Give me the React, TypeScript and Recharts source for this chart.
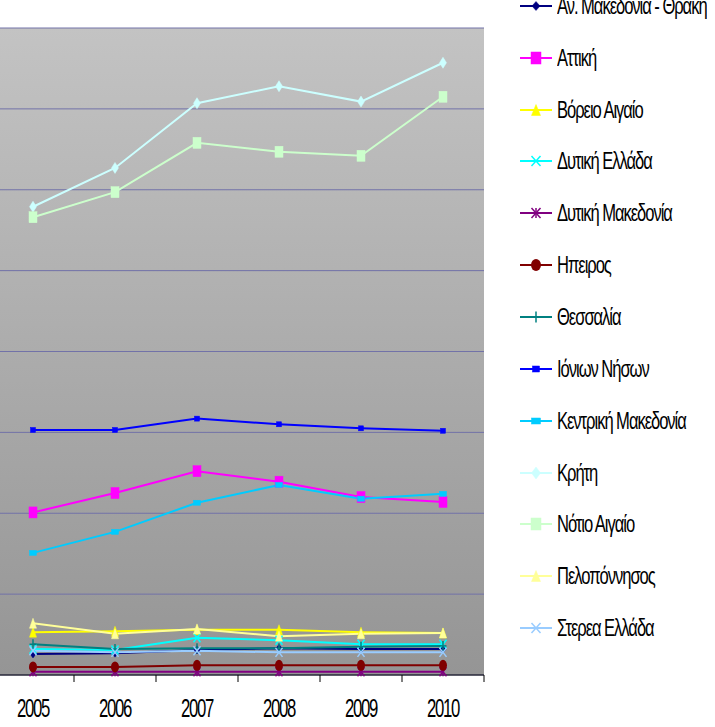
import React from 'react';
import { LineChart, Line, XAxis, YAxis, CartesianGrid, Legend } from 'recharts';

const years = [2005, 2006, 2007, 2008, 2009, 2010];
const xTicks = [2004.5, 2005, 2005.5, 2006, 2006.5, 2007, 2007.5, 2008, 2008.5, 2009, 2009.5, 2010, 2010.5];
const yTicks = [0, 100, 200, 300, 400, 500, 600, 700, 800];

const anMakedoniaThraki = [26, 27, 31, 33, 32, 32];
const attiki = [201, 225, 252, 239, 220, 214];
const voreioAigaio = [53, 54, 56, 56, 53, 52];
const dytikiEllada = [32, 31, 46, 43, 38, 38];
const dytikiMakedonia = [4, 4, 4, 4, 4, 4];
const ipeiros = [10, 10, 12, 12, 12, 12];
const thessalia = [38, 32, 33, 33, 35, 36];
const ionionNison = [303, 303, 317, 310, 305, 302];
const kentrikiMakedonia = [151, 177, 213, 235, 218, 224];
const kriti = [579, 627, 707, 728, 709, 757];
const notioAigaio = [566, 597, 658, 647, 642, 715];
const peloponnisos = [64, 51, 57, 48, 51, 52];
const stereaEllada = [30, 28, 30, 28, 28, 28];

type Shape = 'diamond' | 'square' | 'triangle' | 'x' | 'star' | 'circle' | 'plus';

interface SeriesMeta {
  key: string;
  name: string;
  color: string;
  shape: Shape;
  w: number;
  h: number;
  values: number[];
}

const series: SeriesMeta[] = [
  { key: 'anm', name: 'Αν. Μακεδονία - Θράκη', color: '#000080', shape: 'diamond', w: 6, h: 8, values: anMakedoniaThraki },
  { key: 'att', name: 'Αττική', color: '#FF00FF', shape: 'square', w: 8, h: 11, values: attiki },
  { key: 'vai', name: 'Βόρειο Αιγαίο', color: '#FFFF00', shape: 'triangle', w: 7, h: 10, values: voreioAigaio },
  { key: 'del', name: 'Δυτική Ελλάδα', color: '#00FFFF', shape: 'x', w: 7, h: 9, values: dytikiEllada },
  { key: 'dma', name: 'Δυτική Μακεδονία', color: '#800080', shape: 'star', w: 7, h: 9, values: dytikiMakedonia },
  { key: 'ipe', name: 'Ηπειρος', color: '#800000', shape: 'circle', w: 8, h: 11, values: ipeiros },
  { key: 'the', name: 'Θεσσαλία', color: '#008080', shape: 'plus', w: 7, h: 10, values: thessalia },
  { key: 'ion', name: 'Ιόνιων Νήσων', color: '#0000FF', shape: 'square', w: 5, h: 5, values: ionionNison },
  { key: 'kma', name: 'Κεντρική Μακεδονία', color: '#00CCFF', shape: 'square', w: 7, h: 5, values: kentrikiMakedonia },
  { key: 'kri', name: 'Κρήτη', color: '#CCFFFF', shape: 'diamond', w: 7, h: 11, values: kriti },
  { key: 'nai', name: 'Νότιο Αιγαίο', color: '#CCFFCC', shape: 'square', w: 8, h: 11, values: notioAigaio },
  { key: 'pel', name: 'Πελοπόννησος', color: '#FFFF99', shape: 'triangle', w: 7, h: 10, values: peloponnisos },
  { key: 'ste', name: 'Στερεα Ελλάδα', color: '#99CCFF', shape: 'x', w: 7, h: 9, values: stereaEllada },
];

const data = years.map((year, i) => {
  const row: Record<string, number> = { year };
  series.forEach((s) => {
    row[s.key] = s.values[i];
  });
  return row;
});

const metaByKey: Record<string, SeriesMeta> = {};
series.forEach((s) => {
  metaByKey[s.key] = s;
});

const FONT = '"Liberation Sans", Arial, sans-serif';

function Marker({ cx, cy, shape, color, w, h }: { cx: number; cy: number; shape: Shape; color: string; w: number; h: number }) {
  if (cx == null || cy == null || isNaN(cx) || isNaN(cy)) return null;
  const hw = w / 2;
  const hh = h / 2;
  switch (shape) {
    case 'diamond':
      return <path d={`M${cx},${cy - hh}L${cx + hw},${cy}L${cx},${cy + hh}L${cx - hw},${cy}Z`} fill={color} stroke={color} strokeWidth={0.5} />;
    case 'square':
      return <rect x={cx - hw} y={cy - hh} width={w} height={h} fill={color} stroke={color} strokeWidth={0.5} />;
    case 'triangle':
      return <path d={`M${cx},${cy - hh}L${cx + hw},${cy + hh}L${cx - hw},${cy + hh}Z`} fill={color} stroke={color} strokeWidth={0.5} />;
    case 'circle':
      return <ellipse cx={cx} cy={cy} rx={hw} ry={hh} fill={color} />;
    case 'x':
      return (
        <g stroke={color} strokeWidth={1.5}>
          <line x1={cx - hw} y1={cy - hh} x2={cx + hw} y2={cy + hh} />
          <line x1={cx - hw} y1={cy + hh} x2={cx + hw} y2={cy - hh} />
        </g>
      );
    case 'star':
      return (
        <g stroke={color} strokeWidth={1.5}>
          <line x1={cx - hw} y1={cy - hh} x2={cx + hw} y2={cy + hh} />
          <line x1={cx - hw} y1={cy + hh} x2={cx + hw} y2={cy - hh} />
          <line x1={cx} y1={cy - hh} x2={cx} y2={cy + hh} />
        </g>
      );
    case 'plus':
      return (
        <g stroke={color} strokeWidth={1.5}>
          <line x1={cx - hw} y1={cy} x2={cx + hw} y2={cy} />
          <line x1={cx} y1={cy - hh} x2={cx} y2={cy + hh} />
        </g>
      );
    default:
      return null;
  }
}

function XTick(props: any) {
  const { x, y, payload } = props;
  const v = payload.value as number;
  if (Number.isInteger(v)) {
    return (
      <g transform={`translate(${x},${y})`}>
        <text
          x={0}
          y={0}
          dy={42}
          textAnchor="middle"
          transform="scale(0.67,1)"
          fontFamily={FONT}
          fontSize={25}
          letterSpacing={-2}
          fill="#000"
        >
          {v}
        </text>
      </g>
    );
  }
  return <line x1={x} y1={y} x2={x} y2={y + 7} stroke="#000" strokeWidth={1} />;
}

function LegendContent(props: any) {
  const payload = props.payload || [];
  return (
    <div style={{ fontFamily: FONT }}>
      {payload.map((entry: any) => {
        const meta = metaByKey[entry.dataKey] || series.find((s) => s.name === entry.value);
        if (!meta) return null;
        return (
          <div key={meta.key} style={{ height: 51.85, display: 'flex', alignItems: 'center' }}>
            <svg width={32} height={14} style={{ overflow: 'visible', flex: '0 0 auto' }}>
              <line x1={0} y1={7} x2={32} y2={7} stroke={meta.color} strokeWidth={2} />
              <Marker cx={16} cy={7} shape={meta.shape} color={meta.color} w={meta.w + 2} h={meta.h + 1} />
            </svg>
            <span
              style={{
                display: 'inline-block',
                marginLeft: 5,
                fontSize: 24,
                color: '#000',
                whiteSpace: 'nowrap',
                letterSpacing: '-1.5px',
                transform: 'scaleX(0.69)',
                transformOrigin: 'left center',
                lineHeight: '28px',
              }}
            >
              {meta.name}
            </span>
          </div>
        );
      })}
    </div>
  );
}

export default function App() {
  return (
    <div style={{ position: 'absolute', left: -8, top: 0 }}>
      <LineChart width={723} height={727} data={data} margin={{ top: 28, right: 231, bottom: 0, left: 0 }}>
        <defs>
          <linearGradient id="plotBg" x1="0" y1="0" x2="0" y2="1">
            <stop offset="0%" stopColor="#C3C3C3" />
            <stop offset="100%" stopColor="#959595" />
          </linearGradient>
        </defs>
        <CartesianGrid vertical={false} stroke="#7272A8" strokeWidth={1} fill="url(#plotBg)" fillOpacity={1} />
        <XAxis
          type="number"
          dataKey="year"
          domain={[2004.5, 2010.5]}
          ticks={xTicks}
          interval={0}
          tickLine={false}
          tickSize={0}
          tickMargin={0}
          height={52}
          axisLine={{ stroke: '#000', strokeWidth: 1 }}
          tick={<XTick />}
        />
        <YAxis hide domain={[0, 800]} ticks={yTicks} />
        {series.map((s) => (
          <Line
            key={s.key}
            type="linear"
            dataKey={s.key}
            name={s.name}
            stroke={s.color}
            strokeWidth={2}
            isAnimationActive={false}
            activeDot={false}
            dot={(p: any) => (
              <Marker key={`${s.key}-${p.index}`} cx={p.cx} cy={p.cy} shape={s.shape} color={s.color} w={s.w} h={s.h} />
            )}
          />
        ))}
        <Legend
          layout="vertical"
          align="center"
          verticalAlign="middle"
          content={<LegendContent />}
          wrapperStyle={{ position: 'absolute', left: 528, top: -20, width: 200, height: 700 }}
        />
      </LineChart>
    </div>
  );
}
